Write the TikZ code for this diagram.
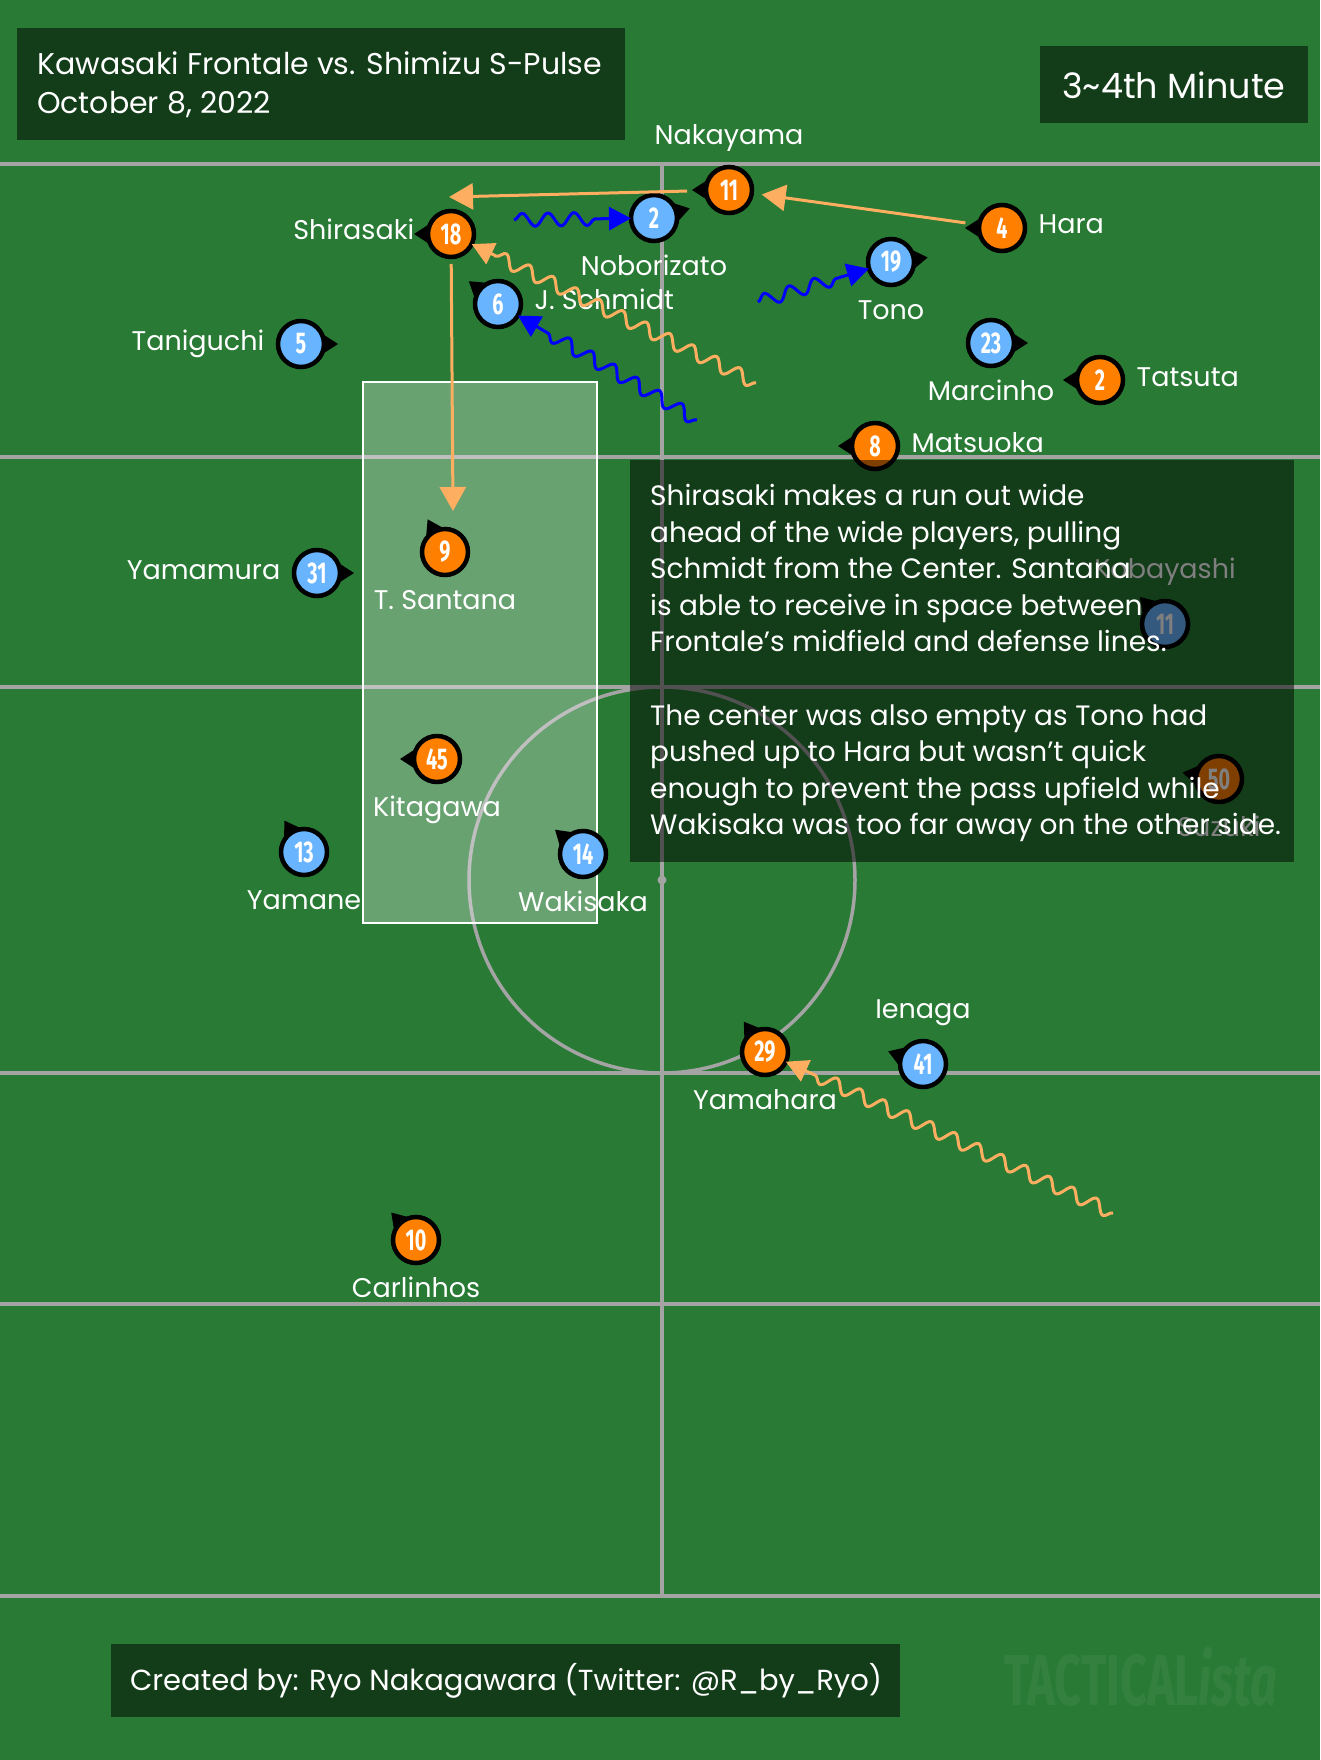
\documentclass[tikz,border=0pt]{standalone}
\usepackage{fontspec}
\setmainfont{Poppins}
\newfontfamily\numfont{Fira Sans}[FakeStretch=0.66]
\newfontfamily\markfont{Fira Sans}[FakeStretch=0.65]
\usetikzlibrary{arrows.meta,decorations.pathmorphing,calc,positioning}

\definecolor{pitch}{HTML}{287A34}
\definecolor{pline}{HTML}{A4A4A4}
\definecolor{shimizuorange}{HTML}{FF7F00}
\definecolor{frontaleblue}{HTML}{69B4FF}
\definecolor{passorange}{HTML}{FDAE61}
\definecolor{runblue}{HTML}{0000FF}

\tikzset{
  player/.style={circle, draw=black, line width=4.5pt, minimum size=46pt,
    inner sep=0pt, outer sep=0pt, text=white,
    font=\numfont\bfseries\fontsize{30}{30}\selectfont},
  shimizu/.style={player, fill=shimizuorange},
  frontale/.style={player, fill=frontaleblue},
  lbl/.style={text=white, font=\fontsize{27}{27}\selectfont,
    inner xsep=0pt, inner ysep=4pt, text height=17pt, text depth=5pt},
  pass/.style={draw=passorange, line width=3pt, -{Triangle[length=24pt,width=26pt]}},
  run/.style={line width=3pt, decorate,
    decoration={snake, amplitude=6.5pt, segment length=26pt, post length=24pt},
    -{Triangle[length=22pt,width=23pt]}},
  infobox/.style={fill=black, fill opacity=0.5},
  boxtxt/.style={text=white, inner sep=0pt, align=left},
}

% player: name, position, team, number, facing, label side, label
\newcommand{\player}[7]{%
  \fill ($(#2)+(#5-28:23pt)$) -- ($(#2)+(#5:37pt)$) -- ($(#2)+(#5+28:23pt)$) -- cycle;
  \node[#3] (#1) at (#2) {#4};
  \node[lbl, #6=13.5pt of #1] (#1-name) {#7};
}

\begin{document}
\begin{tikzpicture}[x=1pt,y=-1pt]
    \useasboundingbox (0,0) rectangle (1320,1760);

    % Pitch
    \fill[pitch] (0,0) rectangle (1320,1760);
    \foreach \y in {164,457,687,1073,1304,1596}
        \draw[pline, line width=3.5pt] (0,\y) -- (1320,\y);
    \draw[pline, line width=3.5pt] (662,164) -- (662,1596);
    \draw[pline, line width=3.5pt] (662,880) circle (193pt);
    \fill[pline] (662,880) circle (4.5pt);

    % Space between the lines
    \draw[white, line width=1.5pt, fill=white, fill opacity=0.3] (363,382) rectangle (597,923);

    % Shimizu S-Pulse
    \player{naka}{729,190}{shimizu}{11}{180}{above}{Nakayama}
    \player{shira}{451,234}{shimizu}{18}{180}{left}{Shirasaki}
    \player{hara}{1002,228}{shimizu}{4}{180}{right}{Hara}
    \player{tatsuta}{1100,380}{shimizu}{2}{180}{right}{Tatsuta}
    \player{matsuoka}{875,446}{shimizu}{8}{180}{right}{Matsuoka}
    \player{santana}{445,552}{shimizu}{9}{118}{below}{T. Santana}
    \player{kitagawa}{437,759}{shimizu}{45}{180}{below}{Kitagawa}
    \player{suzuki}{1219,779}{shimizu}{50}{170}{below}{Suzuki}
    \player{yamahara}{765,1052}{shimizu}{29}{125}{below}{Yamahara}
    \player{carlinhos}{416,1240}{shimizu}{10}{132}{below}{Carlinhos}

    % Kawasaki Frontale
    \player{nobori}{654,218}{frontale}{2}{15}{below}{Noborizato}
    \player{schmidt}{498,304}{frontale}{6}{142}{right}{J. Schmidt}
    \player{tono}{891,262}{frontale}{19}{7}{below}{Tono}
    \player{taniguchi}{301,344}{frontale}{5}{0}{left}{Taniguchi}
    \player{marcinho}{991,343}{frontale}{23}{0}{below}{Marcinho}
    \player{yamamura}{317,573}{frontale}{31}{0}{left}{Yamamura}
    \player{kobayashi}{1165,624}{frontale}{11}{133}{above}{Kobayashi}
    \player{yamane}{304,852}{frontale}{13}{122}{below}{Yamane}
    \player{wakisaka}{583,854}{frontale}{14}{139}{below}{Wakisaka}
    \player{ienaga}{923,1064}{frontale}{41}{160}{above}{Ienaga}

    % Passes
    \coordinate (p18) at (449,197);
    \coordinate (p9) at (453,511);
    \draw[pass, shorten <=19pt] (naka) -- (p18);
    \draw[pass, shorten <=14pt, shorten >=10pt] (hara) -- (naka);
    \draw[pass, shorten <=7pt] (shira) -- (p9);

    % Runs
    \coordinate (r18) at (756,383);
    \coordinate (r29) at (1113,1213);
    \coordinate (r2) at (514,220);
    \coordinate (r19) at (758,302);
    \coordinate (r6) at (697,420);
    \draw[run, passorange] (r18) -- (shira);
    \draw[run, passorange] (r29) -- (yamahara);
    \draw[run, runblue] (r2) -- (nobori);
    \draw[run, runblue] (r19) -- (tono);
    \draw[run, runblue] (r6) -- (schmidt);

    % Notes
    \fill[infobox] (630,460) rectangle (1294,862);
    \node[boxtxt, anchor=north west, font=\fontsize{28}{36.6}\selectfont] (note) at (650,484)
        {Shirasaki makes a run out wide\\
         ahead of the wide players, pulling\\
         Schmidt from the Center. Santana\\
         is able to receive in space between\\
         Frontale's midfield and defense lines.\\[36.6pt]
         The center was also empty as Tono had\\
         pushed up to Hara but wasn't quick\\
         enough to prevent the pass upfield while\\
         Wakisaka was too far away on the other side.};

    % Title
    \fill[infobox] (17,28) rectangle (625,140);
    \node[boxtxt, anchor=north west, font=\fontsize{30}{39}\selectfont] (title) at (37,51)
        {Kawasaki Frontale vs. Shimizu S-Pulse\\ October 8, 2022};
    \fill[infobox] (1040,46) rectangle (1308,123);
    \node[boxtxt, font=\fontsize{35}{35}\selectfont] (minute) at (1174,85) {3{\char"7E}4th Minute};

    % Credit
    \fill[infobox] (111,1644) rectangle (900,1717);
    \node[boxtxt, font=\fontsize{29}{29}\selectfont] (credit) at (506,1681)
        {Created by: Ryo Nakagawara (Twitter: @R\_by\_Ryo)};
    \node[text=white, text opacity=0.06, inner sep=0pt, font=\markfont\bfseries\fontsize{72}{72}\selectfont]
        (mark) at (1141,1677) {TACTICAL\textit{ista}};
\end{tikzpicture}
\end{document}
